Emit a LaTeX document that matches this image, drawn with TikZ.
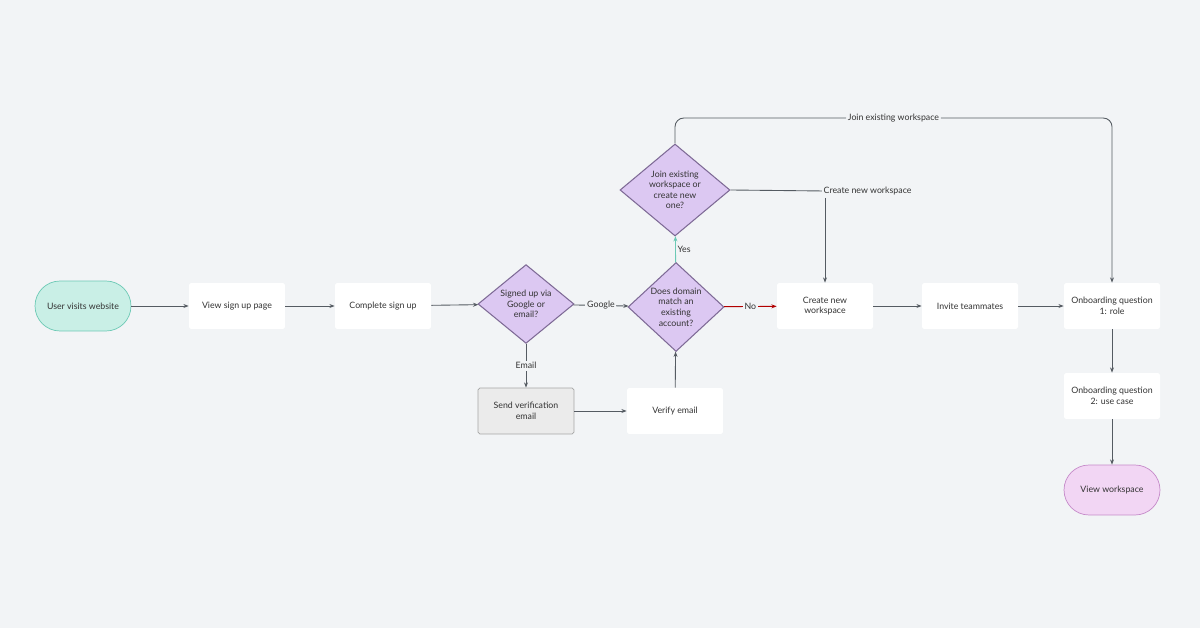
\documentclass[tikz,border=0pt]{standalone}
\usepackage{fontspec}
\setmainfont{Lato}
\usetikzlibrary{shapes.geometric,arrows.meta}
\definecolor{bgc}{HTML}{F2F4F6}
\definecolor{tealc}{HTML}{C9EFE6}
\definecolor{tealb}{HTML}{6CC9B5}
\definecolor{lilac}{HTML}{DCC8F2}
\definecolor{lilacb}{HTML}{7E6A96}
\definecolor{pinkc}{HTML}{F2D6F4}
\definecolor{pinkb}{HTML}{C58AC9}
\definecolor{linec}{HTML}{555B62}
\tikzset{
  every node/.style={font=\fontsize{5}{6}\selectfont, text=black!80, align=center},
  box/.style={rectangle, rounded corners=1pt, fill=white, minimum width=1.92cm, minimum height=0.92cm},
  term/.style={rectangle, rounded corners=0.5cm, minimum width=1.92cm, minimum height=1cm},
  dec/.style={diamond, draw=lilacb, fill=lilac, line width=0.6pt, inner sep=0pt},
  lab/.style={fill=bgc, inner sep=1pt},
  flow/.style={draw=linec, line width=0.5pt, -{Stealth[length=3pt]}}
}
\begin{document}
\begin{tikzpicture}[x=0.02cm, y=-0.02cm]
  \fill[bgc] (0,0) rectangle (1200,628);
  \useasboundingbox (0,0) rectangle (1200,628);

  \node[term, fill=tealc, draw=tealb] (start) at (83,306) {User visits website};
  \node[box] (view) at (237,306) {View sign up page};
  \node[box] (complete) at (383,306) {Complete sign up};
  \node[dec, minimum width=1.92cm, minimum height=1.44cm] (signed) at (526,304) {Signed up via\\Google or\\email?};
  \node[dec, minimum width=1.92cm, minimum height=1.72cm] (domain) at (676,307) {Does domain\\match an\\existing\\account?};
  \node[dec, minimum width=2.2cm, minimum height=1.84cm] (join) at (675,190) {Join existing\\workspace or\\create new\\one?};
  \node[box] (create) at (825,306) {Create new\\workspace};
  \node[box] (invite) at (970,306) {Invite teammates};
  \node[box] (onb1) at (1112,306) {Onboarding question\\1: role};
  \node[box] (onb2) at (1112,396) {Onboarding question\\2: use case};
  \node[term, fill=pinkc, draw=pinkb] (viewws) at (1112,490) {View workspace};
  \node[box, fill=black!8, draw=black!35] (send) at (526,411) {Send verification\\email};
  \node[box] (verify) at (675,411) {Verify email};
  \coordinate (cnw) at (825,191);
  \coordinate (topl) at (675,118);
  \coordinate (topr) at (1112,118);

  \draw[flow] (start) -- (view);
  \draw[flow] (view) -- (complete);
  \draw[flow] (complete) -- (signed);
  \draw[flow] (signed) -- node[lab] {Google} (domain);
  \draw[flow] (signed) -- node[lab] {Email} (send);
  \draw[flow] (send) -- (verify);
  \draw[flow] (verify) -- (domain);
  \draw[flow, draw=tealb] (domain) -- node[right, lab] {Yes} (join);
  \draw[flow, draw=red!70!black] (domain) -- node[lab] {No} (create);
  \draw[draw=linec, line width=0.5pt] (join.east) -- (cnw) node[lab, right=-2pt] {Create new workspace};
  \draw[flow] (825,198) -- (create);
  \draw[flow, rounded corners=5pt] (join.north) -- (topl) -- node[lab] {Join existing workspace} (topr) -- (onb1);
  \draw[flow] (create) -- (invite);
  \draw[flow] (invite) -- (onb1);
  \draw[flow] (onb1) -- (onb2);
  \draw[flow] (onb2) -- (viewws);
\end{tikzpicture}
\end{document}
